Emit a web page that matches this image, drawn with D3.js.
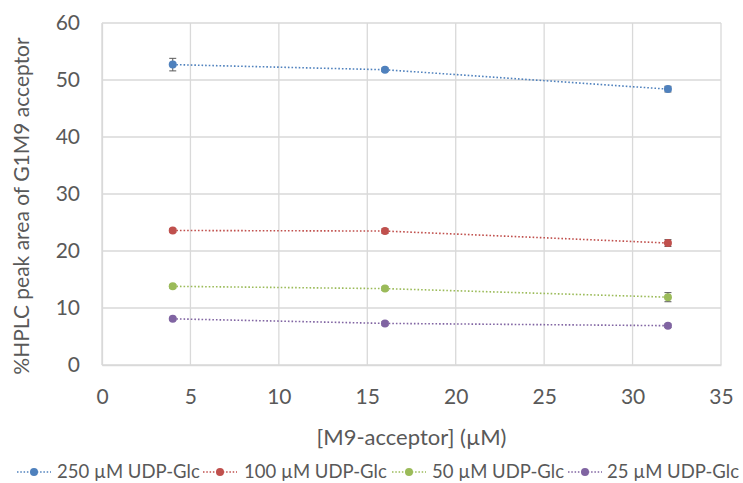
<!DOCTYPE html>
<html>
<head>
<meta charset="utf-8">
<script src="https://cdn.jsdelivr.net/npm/d3@7"></script>
<style>
  body { margin: 0; background: #fff; }
  text { font-family: Lato, "Open Sans", sans-serif; fill: #595959; }
</style>
</head>
<body>
<div id="chart"></div>
<script>
const acceptor = [4, 16, 32];
const seriesNames = ["250 µM UDP-Glc", "100 µM UDP-Glc", "50 µM UDP-Glc", "25 µM UDP-Glc"];
const seriesColors = ["#4f81bd", "#c0504d", "#9bbb59", "#8064a2"];
const udp250 = [52.7, 51.8, 48.4];
const udp100 = [23.6, 23.5, 21.4];
const udp50 = [13.8, 13.4, 11.9];
const udp25 = [8.1, 7.3, 6.9];
const err250 = [1.1, 0.3, 0.5];
const err100 = [0.3, 0.4, 0.6];
const err50 = [0.3, 0.3, 0.8];
const err25 = [0.2, 0.3, 0.3];
const xTicks = [0, 5, 10, 15, 20, 25, 30, 35];
const yTicks = [0, 10, 20, 30, 40, 50, 60];

const width = 743, height = 483;
const margin = {top: 23, right: 22, bottom: 118, left: 102};
const visWidth = width - margin.left - margin.right;
const visHeight = height - margin.top - margin.bottom;

const x = d3.scaleLinear().domain([0, 35]).range([0, visWidth]);
const y = d3.scaleLinear().domain([0, 60]).range([visHeight, 0]);

const svg = d3.select('#chart').append('svg')
    .attr('width', width)
    .attr('height', height);

const g = svg.append('g')
    .attr('transform', `translate(${margin.left}, ${margin.top})`);

// gridlines
g.append('g')
  .selectAll('line')
  .data(yTicks)
  .join('line')
    .attr('x1', 0).attr('x2', visWidth)
    .attr('y1', d => y(d)).attr('y2', d => y(d))
    .attr('stroke', '#d9d9d9').attr('stroke-width', 1.3);

g.append('g')
  .selectAll('line')
  .data(xTicks)
  .join('line')
    .attr('x1', d => x(d)).attr('x2', d => x(d))
    .attr('y1', 0).attr('y2', visHeight)
    .attr('stroke', '#d9d9d9').attr('stroke-width', 1.3);

// axes
const xAxis = d3.axisBottom(x).tickValues(xTicks).tickSize(0).tickPadding(24);
const yAxis = d3.axisLeft(y).tickValues(yTicks).tickSize(0).tickPadding(22);

g.append('g')
    .attr('transform', `translate(0,${visHeight})`)
    .call(xAxis)
    .call(g => g.select('.domain').attr('stroke', '#d9d9d9').attr('stroke-width', 1.3))
    .call(g => g.selectAll('text').style('font-size', '21px').attr('fill', '#595959'));

g.append('g')
    .call(yAxis)
    .call(g => g.select('.domain').attr('stroke', '#d9d9d9').attr('stroke-width', 1.3))
    .call(g => g.selectAll('text').style('font-size', '21px').attr('fill', '#595959'));

// axis titles
svg.append('text')
    .attr('x', margin.left + visWidth / 2)
    .attr('y', 445)
    .attr('text-anchor', 'middle')
    .style('font-size', '22px')
    .text('[M9-acceptor] (µM)');

svg.append('text')
    .attr('transform', `translate(29, ${margin.top + visHeight / 2 + 12}) rotate(-90)`)
    .attr('text-anchor', 'middle')
    .style('font-size', '21px')
    .text('%HPLC peak area of G1M9 acceptor');

// series
const allValues = [udp250, udp100, udp50, udp25];
const allErrors = [err250, err100, err50, err25];
const series = allValues.map((vals, i) => ({
  name: seriesNames[i],
  color: seriesColors[i],
  points: vals.map((v, j) => ({x: acceptor[j], y: v, e: allErrors[i][j]}))
}));

const line = d3.line().x(d => x(d.x)).y(d => y(d.y));

series.forEach(s => {
  const sg = g.append('g');
  sg.append('path')
      .attr('d', line(s.points))
      .attr('fill', 'none')
      .attr('stroke', s.color)
      .attr('stroke-width', 1.6)
      .attr('stroke-dasharray', '1.6,2');

  // error bars
  const eb = sg.selectAll('.err').data(s.points).join('g').attr('class', 'err');
  eb.append('line')
      .attr('x1', d => x(d.x)).attr('x2', d => x(d.x))
      .attr('y1', d => y(d.y - d.e)).attr('y2', d => y(d.y + d.e))
      .attr('stroke', '#595959').attr('stroke-width', 1);
  eb.append('line')
      .attr('x1', d => x(d.x) - 3.5).attr('x2', d => x(d.x) + 3.5)
      .attr('y1', d => y(d.y + d.e)).attr('y2', d => y(d.y + d.e))
      .attr('stroke', '#595959').attr('stroke-width', 1);
  eb.append('line')
      .attr('x1', d => x(d.x) - 3.5).attr('x2', d => x(d.x) + 3.5)
      .attr('y1', d => y(d.y - d.e)).attr('y2', d => y(d.y - d.e))
      .attr('stroke', '#595959').attr('stroke-width', 1);

  sg.selectAll('circle').data(s.points).join('circle')
      .attr('cx', d => x(d.x)).attr('cy', d => y(d.y))
      .attr('r', 4)
      .attr('fill', s.color);
});

// legend
const legendX = [17, 203, 392, 568];
const legendTextX = [57, 244, 432, 607];
const legend = svg.append('g').attr('transform', 'translate(0, 472)');
series.forEach((s, i) => {
  const lg = legend.append('g');
  lg.append('line')
      .attr('x1', legendX[i]).attr('x2', legendX[i] + 34)
      .attr('stroke', s.color).attr('stroke-width', 1.5)
      .attr('stroke-dasharray', '1.5,1.8');
  lg.append('circle').attr('cx', legendX[i] + 17).attr('cy', 0).attr('r', 4).attr('fill', s.color);
  lg.append('text')
      .attr('x', legendTextX[i])
      .attr('dy', '0.35em')
      .style('font-size', '18.5px')
      .text(s.name);
});
</script>
</body>
</html>
